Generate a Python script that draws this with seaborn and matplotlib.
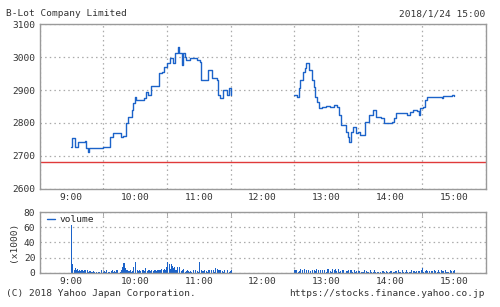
import numpy as np
import pandas as pd
import matplotlib
matplotlib.use("Agg")
import matplotlib.pyplot as plt
import seaborn as sns

# ---------------- data ----------------
title = "B-Lot Company Limited"
stamp = "2018/1/24 15:00"
prev_close = 2683

# morning session price (minutes after 9:00, price)
am_min = [0, 1, 3, 6, 13, 14, 16, 17, 27, 30, 33, 36, 39, 46, 47, 49, 51, 53, 57, 58,
          60, 61, 68, 70, 72, 75, 79, 82, 85, 87, 90, 93, 96, 98, 100, 101, 104, 105,
          107, 108, 112, 118, 121, 122, 126, 129, 132, 137, 138, 140, 143, 146, 148, 150]
am_px = [2728, 2755, 2728, 2743, 2745, 2723, 2713, 2723, 2723, 2728, 2728, 2758, 2769,
         2769, 2757, 2760, 2799, 2819, 2840, 2860, 2880, 2870, 2875, 2895, 2885, 2912,
         2912, 2953, 2955, 2971, 2981, 2996, 2981, 3011, 3031, 3011, 2976, 3011, 3001,
         2991, 2996, 2991, 2986, 2930, 2930, 2961, 2936, 2930, 2885, 2875, 2900, 2885,
         2905, 2885]

# afternoon session price (minutes after 12:00, price)
pm_min = [30, 32, 34, 35, 38, 40, 41, 44, 46, 48, 49, 51, 53, 56, 60, 63, 67, 70, 72,
          74, 78, 80, 81, 83, 85, 88, 90, 92, 95, 96, 100, 104, 107, 111, 114, 118, 122,
          124, 126, 131, 136, 139, 142, 145, 147, 148, 151, 153, 155, 167, 169, 170, 178, 180]
pm_px = [2885, 2880, 2905, 2930, 2956, 2966, 2981, 2961, 2930, 2908, 2880, 2865, 2844,
         2849, 2851, 2849, 2854, 2849, 2824, 2794, 2774, 2759, 2743, 2774, 2789, 2769,
         2774, 2764, 2764, 2804, 2824, 2838, 2819, 2814, 2799, 2799, 2804, 2814, 2829,
         2829, 2824, 2834, 2839, 2836, 2824, 2844, 2849, 2869, 2880, 2880, 2876, 2882,
         2885, 2883]

# volume (x1000) per minute, 9:00-11:30 and 12:30-15:00
am_vol = [63, 12, 4, 6, 3, 5, 2, 3, 2, 3,
          4, 2, 3, 1, 2, 3, 1, 2, 1, 1,
          2, 1, 0, 1, 0, 1, 1, 0, 2, 1,
          1, 2, 1, 3, 1, 1, 0, 2, 3, 1,
          2, 1, 3, 1, 2, 0, 1, 4, 8, 13,
          6, 3, 4, 2, 2, 3, 1, 2, 5, 2,
          10, 4, 3, 2, 3, 2, 3, 4, 2, 3,
          3, 2, 3, 4, 2, 1, 3, 2, 4, 3,
          2, 3, 4, 3, 2, 3, 4, 5, 3, 7,
          8, 6, 11, 5, 12, 9, 6, 8, 4, 3,
          5, 3, 4, 2, 3, 3, 2, 1, 2, 3,
          2, 1, 2, 1, 1, 2, 3, 1, 2, 1,
          10, 4, 3, 2, 2, 1, 3, 2, 1, 2,
          2, 1, 2, 3, 1, 2, 4, 5, 4, 3,
          2, 1, 2, 1, 1, 2, 1, 3, 1, 2,
          4]
pm_vol = [3, 2, 2, 1, 2, 3, 2, 1, 2, 2,
          3, 2, 2, 3, 1, 2, 2, 1, 3, 2,
          2, 3, 1, 2, 2, 1, 2, 1, 2, 2,
          1, 2, 3, 2, 1, 2, 3, 4, 3, 2,
          2, 3, 2, 1, 2, 3, 2, 1, 2, 2,
          1, 2, 3, 2, 1, 1, 2, 1, 1, 2,
          1, 1, 2, 1, 1, 1, 2, 1, 1, 1,
          1, 2, 1, 1, 1, 2, 1, 1, 1, 1,
          0, 1, 1, 1, 2, 1, 1, 1, 1, 1,
          1, 1, 2, 1, 1, 1, 1, 2, 1, 1,
          1, 1, 2, 1, 1, 1, 2, 1, 1, 1,
          1, 2, 1, 1, 1, 2, 1, 1, 2, 3,
          4, 2, 1, 2, 2, 1, 2, 1, 1, 2,
          2, 1, 2, 2, 1, 2, 1, 1, 2, 1,
          2, 2, 1, 2, 1, 1, 2, 1, 2, 2,
          3]

hour_ticks = [9, 10, 11, 12, 13, 14, 15]
hour_labels = ["9:00", "10:00", "11:00", "12:00", "13:00", "14:00", "15:00"]
price_ticks = [2600, 2700, 2800, 2900, 3000, 3100]
vol_ticks = [0, 20, 40, 60, 80]

# ---------------- frames ----------------
am = pd.DataFrame({"t": 9 + np.array(am_min) / 60, "price": am_px, "session": "am"})
pm = pd.DataFrame({"t": 12 + np.array(pm_min) / 60, "price": pm_px, "session": "pm"})
vol = pd.DataFrame({
    "t": np.concatenate([9 + np.arange(len(am_vol)) / 60, 12.5 + np.arange(len(pm_vol)) / 60]),
    "vol": am_vol + pm_vol,
})

# ---------------- style ----------------
sns.set_style("white")
plt.rcParams["font.family"] = ["DejaVu Sans Mono"]
FS = 6.8
TXT = "#333333"
BLUE = "#1C63C9"
FRAME = "#9a9a9a"
GRID = "#aaaaaa"

fig = plt.figure(figsize=(5.0, 3.07), dpi=100)
L, W = 0.079, 0.8925
ax = fig.add_axes([L, 0.3844, W, 0.5374])
axv = fig.add_axes([L, 0.1117, W, 0.1977])

for a in (ax, axv):
    a.set_facecolor("white")
    for s in a.spines.values():
        s.set_color(FRAME)
        s.set_linewidth(1.0)
    a.set_xlim(8.5, 15.5)
    a.set_xticks(hour_ticks)
    a.set_xticklabels(hour_labels)
    a.set_xticks(np.arange(8.5, 15.51, 0.5), minor=True)
    a.tick_params(axis="both", which="both", length=0, labelsize=FS, colors=TXT, pad=3)
    a.grid(True, which="minor", axis="x", linestyle=(0, (1.2, 2.5)), color=GRID, linewidth=0.9)
    a.grid(True, which="major", axis="y", linestyle=(0, (1.2, 2.5)), color=GRID, linewidth=0.9)
    a.set_axisbelow(True)

# price
for d in (am, pm):
    sns.lineplot(data=d, x="t", y="price", ax=ax, color=BLUE, linewidth=1.0,
                 drawstyle="steps-post", estimator=None, legend=False)
ax.axhline(prev_close, color="#e03a3a", linewidth=1.0)
ax.set_ylim(2600, 3100)
ax.set_yticks(price_ticks)
ax.set_yticklabels([str(v) for v in price_ticks])
ax.set_xlabel("")
ax.set_ylabel("")
ax.yaxis.grid(True, linestyle=(0, (1.2, 2.5)), color=GRID, linewidth=0.9)

# volume
sns.histplot(data=vol, x="t", weights="vol", binwidth=1 / 60, binrange=(9, 15 + 1 / 60),
             ax=axv, color=BLUE, alpha=1.0, linewidth=0, element="bars", label="volume")
axv.set_ylim(0, 80)
axv.set_yticks(vol_ticks)
axv.set_yticklabels([str(v) for v in vol_ticks])
axv.set_xlabel("")
axv.set_ylabel("(x1000)", fontsize=FS, color=TXT, labelpad=4)
axv.tick_params(axis="x", which="minor", direction="in", length=3, top=True, bottom=True,
                color=FRAME)
from matplotlib.lines import Line2D
axv.legend(handles=[Line2D([], [], color=BLUE, linewidth=1.0)], labels=["volume"],
           loc="upper left", frameon=False, fontsize=FS, handlelength=0.8,
           handletextpad=0.5, borderaxespad=0.2, bbox_to_anchor=(0.005, 1.04))

# texts
fig.text(6 / 500, 1 - 14 / 307, title, fontsize=FS, color=TXT, va="center", ha="left")
fig.text(485 / 500, 1 - 14 / 307, stamp, fontsize=FS, color=TXT, va="center", ha="right")
fig.text(6 / 500, 1 - 294 / 307, "(C) 2018 Yahoo Japan Corporation.", fontsize=FS,
         color=TXT, va="center", ha="left")
fig.text(485 / 500, 1 - 294 / 307, "https://stocks.finance.yahoo.co.jp", fontsize=FS,
         color=TXT, va="center", ha="right")

fig.savefig("out.png", dpi=100, facecolor="white")
